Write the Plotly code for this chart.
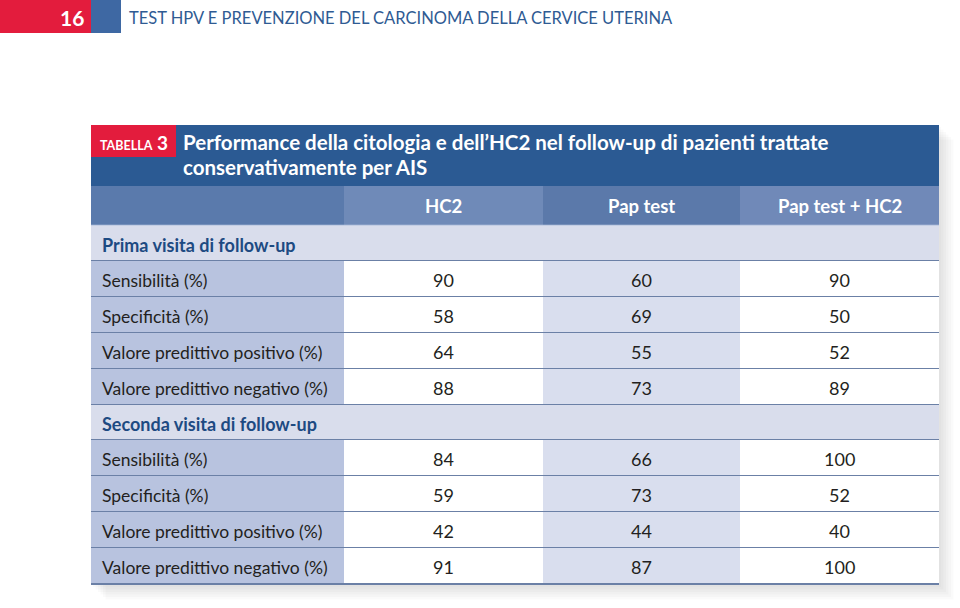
import plotly.graph_objects as go

# ---------------- data ----------------
page_number = "16"
page_header = "TEST HPV E PREVENZIONE DEL CARCINOMA DELLA CERVICE UTERINA"
table_tag = "TABELLA"
table_num = "3"
title_lines = ["Performance della citologia e dell\u2019HC2 nel follow-up di pazienti trattate",
               "conservativamente per AIS"]
columns = ["HC2", "Pap test", "Pap test + HC2"]
sections = ["Prima visita di follow-up", "Seconda visita di follow-up"]
row_labels = ["Sensibilit\u00e0 (%)", "Specificit\u00e0 (%)",
              "Valore predittivo positivo (%)", "Valore predittivo negativo (%)"]
hc2_first = [90, 58, 64, 88]
pap_first = [60, 69, 55, 73]
combo_first = [90, 50, 52, 89]
hc2_second = [84, 59, 42, 91]
pap_second = [66, 73, 44, 87]
combo_second = [100, 52, 40, 100]
section_values = [
    [hc2_first, pap_first, combo_first],
    [hc2_second, pap_second, combo_second],
]

# ---------------- layout constants ----------------
W, H = 960, 608
FONT = "Lato"
TX0, TX1 = 91, 939
col_edges = [91, 344, 543, 740, 939]
TITLE_Y0, TITLE_Y1 = 125, 186
HEAD_Y0, HEAD_Y1 = 186, 225
SEC_H = 35
ROW_H = 36

DARK_BLUE = "#2b5a93"
RED = "#e31c3d"
head_fills = ["#5a7aac", "#6f8ab8", "#5b79aa", "#7089b8"]
col_fills = ["#b8c3df", "#ffffff", "#d9deee", "#ffffff"]
SEC_FILL = "#d9ddec"
LINE = "#6b80a6"
TEXT = "#231f20"
SEC_TEXT = "#1d4a82"

shapes = []
annotations = []


def rect(x0, y0, x1, y1, fill, opacity=1.0):
    shapes.append(dict(type="rect", xref="x", yref="y", x0=x0, y0=y0, x1=x1, y1=y1,
                       fillcolor=fill, line=dict(width=0), opacity=opacity, layer="below"))


def hline(y, color=LINE, width=2):
    shapes.append(dict(type="line", xref="x", yref="y", x0=TX0, x1=TX1, y0=y, y1=y,
                       line=dict(color=color, width=width), layer="below"))


def text(x, y, s, size, color=TEXT, xanchor="left", bold=False, family=FONT):
    annotations.append(dict(x=x, y=y, xref="x", yref="y", text=("<b>%s</b>" % s) if bold else s,
                            showarrow=False, xanchor=xanchor, yanchor="middle",
                            font=dict(family=family, size=size, color=color)))


# page header
rect(0, 0, 91, 33, RED)
rect(91, 0, 121, 33, "#3e68a3")
text(86, 17, page_number, 21, "#ffffff", xanchor="right", bold=True)
text(127, 18, page_header, 16.5, "#2f5b93")

# table shadow
for i in range(6):
    d = 2 + i * 2.5
    rect(TX0 + d, TITLE_Y0 + d, TX1 + d, 585 + d, "#808080", 0.045)

# title band
rect(TX0, TITLE_Y0, TX1, TITLE_Y1, DARK_BLUE)
rect(TX0, TITLE_Y0, 176, 157, RED)
annotations.append(dict(x=133.5, y=142, xref="x", yref="y", showarrow=False,
                        xanchor="center", yanchor="middle",
                        text="<b><span style='font-size:12.5px'>%s</span> <span style='font-size:19px'>%s</span></b>" % (table_tag, table_num),
                        font=dict(family=FONT, size=19, color="#ffffff")))
text(181, 142, title_lines[0], 20.5, "#ffffff", bold=True)
text(181, 167, title_lines[1], 20.5, "#ffffff", bold=True)

# header row
for c in range(4):
    rect(col_edges[c], HEAD_Y0, col_edges[c + 1], HEAD_Y1, head_fills[c])
for c, name in enumerate(columns):
    text((col_edges[c + 1] + col_edges[c + 2]) / 2, 206, name, 18.5, "#ffffff", xanchor="center", bold=True)
hline(HEAD_Y1 + 0.5, "#c4cee4", 1.5)

# body
y = HEAD_Y1 + 1
for s, sec in enumerate(sections):
    rect(TX0, y, TX1, y + SEC_H, SEC_FILL)
    text(100, y + SEC_H / 2 + 1, sec, 18, SEC_TEXT, bold=True)
    y += SEC_H
    hline(y)
    for r, lab in enumerate(row_labels):
        for c in range(4):
            rect(col_edges[c], y, col_edges[c + 1], y + ROW_H, col_fills[c])
        text(100, y + ROW_H / 2 + 1, lab, 17.5)
        for c in range(3):
            text((col_edges[c + 1] + col_edges[c + 2]) / 2, y + ROW_H / 2 + 1,
                 str(section_values[s][c][r]), 18, xanchor="center")
        y += ROW_H
        hline(y)

fig = go.Figure()
fig.add_trace(go.Scatter(x=[0, W], y=[0, H], mode="markers", marker=dict(opacity=0),
                         hoverinfo="skip", showlegend=False))
fig.update_layout(
    width=W, height=H, margin=dict(l=0, r=0, t=0, b=0),
    paper_bgcolor="#ffffff", plot_bgcolor="#ffffff",
    xaxis=dict(range=[0, W], visible=False, fixedrange=True),
    yaxis=dict(range=[H, 0], visible=False, fixedrange=True),
    shapes=shapes, annotations=annotations, showlegend=False,
)
fig.write_html("out.html", config={"displayModeBar": False},
               post_script="document.body.style.margin='0';document.body.style.overflow='hidden';")
